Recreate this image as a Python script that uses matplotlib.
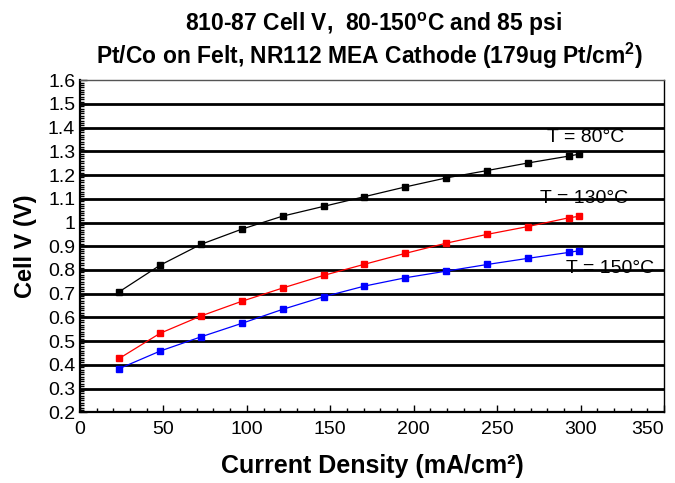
import numpy as np
import matplotlib.pyplot as plt
from matplotlib.ticker import MultipleLocator

plt.rcParams['font.family'] = ['Liberation Sans', 'DejaVu Sans']

# current density (mA/cm2)
current = [23.5, 48, 72.5, 97, 121.5, 146, 170.5, 195, 219.5, 244, 268.5, 293, 299]

# cell voltage (V)
v_80 = [0.708, 0.820, 0.908, 0.972, 1.027, 1.068, 1.109, 1.150, 1.188, 1.219, 1.251, 1.280, 1.288]
v_130 = [0.427, 0.533, 0.606, 0.668, 0.724, 0.777, 0.824, 0.870, 0.913, 0.950, 0.983, 1.020, 1.026]
v_150 = [0.384, 0.458, 0.518, 0.575, 0.634, 0.687, 0.732, 0.767, 0.795, 0.823, 0.849, 0.874, 0.881]

x_ticks = [0, 50, 100, 150, 200, 250, 300, 350]
y_ticks = [0.2, 0.3, 0.4, 0.5, 0.6, 0.7, 0.8, 0.9, 1.0, 1.1, 1.2, 1.3, 1.4, 1.5, 1.6]
y_ticklabels = ['0.2', '0.3', '0.4', '0.5', '0.6', '0.7', '0.8', '0.9', '1',
                '1.1', '1.2', '1.3', '1.4', '1.5', '1.6']

labels = ['T = 80°C', 'T = 130°C', 'T = 150°C']
label_pos = [(280, 1.36), (275.5, 1.103), (291.5, 0.808)]

fig = plt.figure(figsize=(6.75, 4.83), dpi=100)
ax = fig.add_axes([0.1185, 0.1464, 0.8652, 0.6876])

# horizontal gridlines
for y in y_ticks[1:-1]:
    ax.axhline(y, color='black', lw=2.0, zorder=1)

ax.plot(current, v_80, color='black', lw=0.9, marker='s', ms=4, zorder=3)
ax.plot(current, v_130, color='#ff0000', lw=0.9, marker='s', ms=4, zorder=3)
ax.plot(current, v_150, color='#0000ff', lw=0.9, marker='s', ms=4, zorder=3)

for txt, (x, y) in zip(labels, label_pos):
    ax.text(x, y, txt, fontsize=14, ha='left', va='center', zorder=4)

ax.set_xlim(0, 350)
ax.set_ylim(0.2, 1.6)
ax.set_xticks(x_ticks)
ax.set_xticklabels([str(v) for v in x_ticks])
ax.xaxis.set_minor_locator(MultipleLocator(10))
ax.set_yticks(y_ticks)
ax.set_yticklabels(y_ticklabels)
ax.yaxis.set_minor_locator(MultipleLocator(0.01))
ax.tick_params(which='both', direction='in', labelsize=14, width=1)
ax.tick_params(which='major', length=5)
ax.tick_params(which='minor', length=3)
ax.tick_params(axis='x', pad=6)
# keep the last x label inside the figure
ax.get_xticklabels()[-1].set_horizontalalignment('right')

for s in ['left', 'bottom']:
    ax.spines[s].set_linewidth(1.6)
ax.spines['right'].set_linewidth(1.0)
ax.spines['top'].set_linewidth(1.0)
ax.spines['top'].set_color('#555555')

ax.set_xlabel('Current Density (mA/cm²)', fontsize=18, fontweight='bold', labelpad=12)
ax.set_ylabel('Cell V (V)', fontsize=17, fontweight='bold', labelpad=8)

fig.text(0.553, 0.950, r'810-87 Cell V,  80-150$^\mathregular{o}$C and 85 psi',
         ha='center', va='center', fontsize=16.5, fontweight='bold')
fig.text(0.547, 0.884, r'Pt/Co on Felt, NR112 MEA Cathode (179ug Pt/cm$^\mathregular{2}$)',
         ha='center', va='center', fontsize=16.5, fontweight='bold')

plt.savefig('out.png', dpi=100)
